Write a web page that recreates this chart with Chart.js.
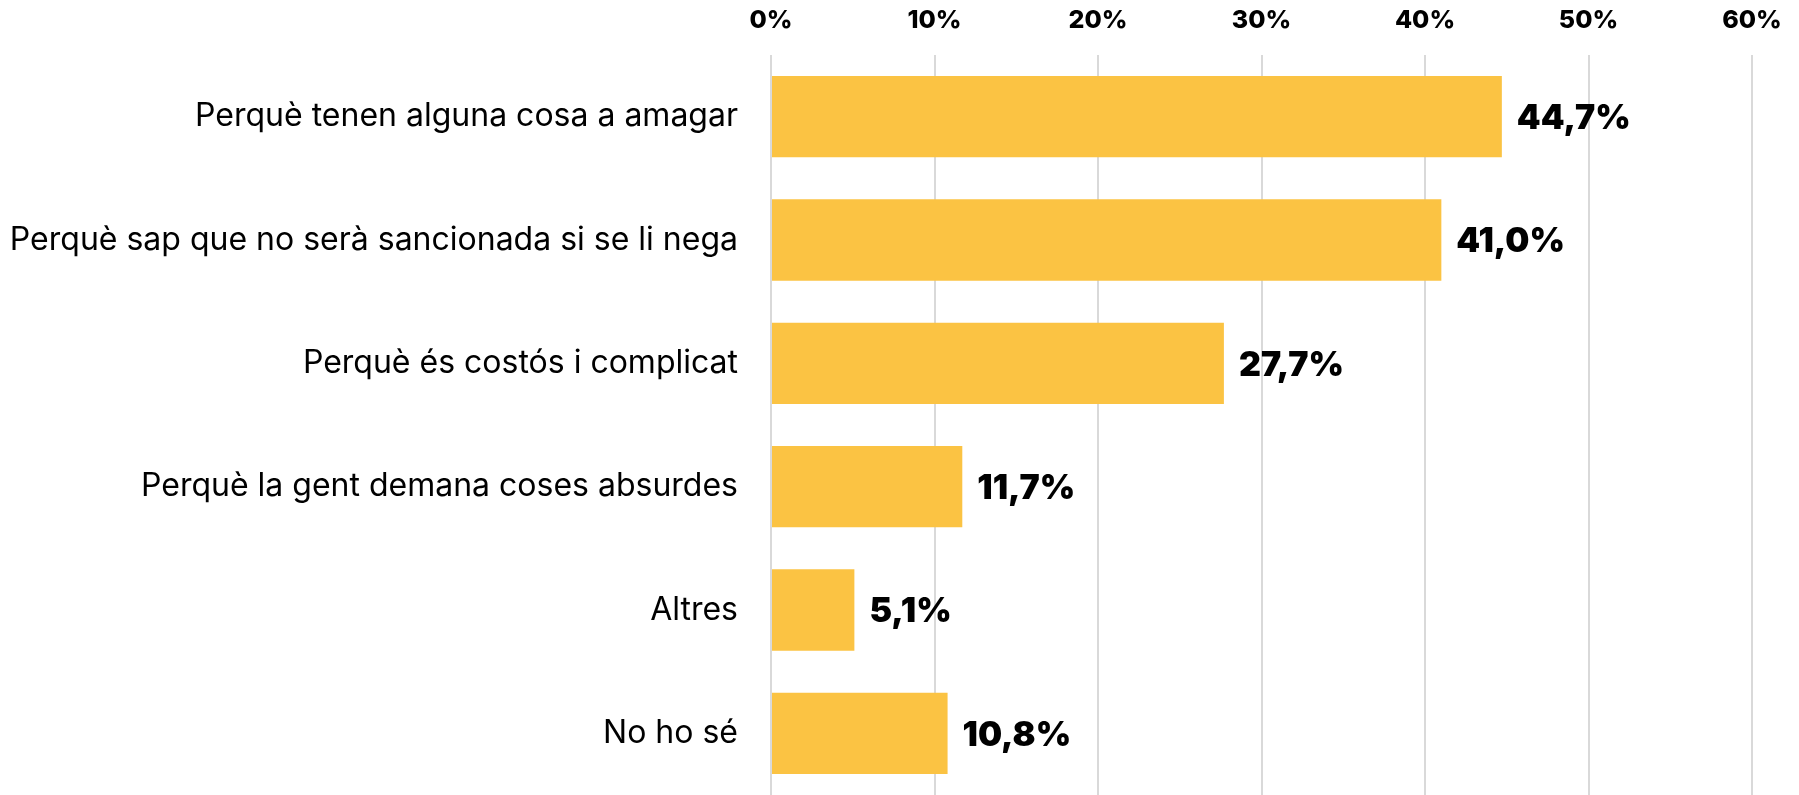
<!DOCTYPE html>
<html>
<head>
<meta charset="utf-8">
<script src="https://cdn.jsdelivr.net/npm/chart.js@4"></script>
<style>
  html, body { margin: 0; padding: 0; background: #fff; }
  canvas { display: block; }
</style>
</head>
<body>
<canvas id="mainChart" width="1799" height="795"></canvas>
<script>
// Data
const categories = [
  'Perquè tenen alguna cosa a amagar',
  'Perquè sap que no serà sancionada si se li nega',
  'Perquè és costós i complicat',
  'Perquè la gent demana coses absurdes',
  'Altres',
  'No ho sé'
];
const values = [44.7, 41.0, 27.7, 11.7, 5.1, 10.8];
const tickValues = [0, 10, 20, 30, 40, 50, 60];

const barColor = '#fbc343';
const gridColor = '#d9d9d9';

// Formatting
const formatPercent = (val) => val.toFixed(1).replace('.', ',') + '%';

// Value labels at the end of each bar
const valueLabels = {
  id: 'valueLabels',
  afterDatasetsDraw(chart) {
    const { ctx } = chart;
    const meta = chart.getDatasetMeta(0);
    ctx.save();
    ctx.font = '900 34px Inter';
    ctx.fillStyle = '#000';
    ctx.textAlign = 'left';
    ctx.textBaseline = 'middle';
    meta.data.forEach((bar, i) => {
      ctx.fillText(formatPercent(values[i]), bar.x + 15, bar.y + 2);
    });
    ctx.restore();
  }
};

const ctx = document.getElementById('mainChart').getContext('2d');
new Chart(ctx, {
  type: 'bar',
  data: {
    labels: categories,
    datasets: [{
      data: values,
      backgroundColor: barColor,
      borderWidth: 0,
      barPercentage: 0.66,
      categoryPercentage: 1
    }]
  },
  options: {
    indexAxis: 'y',
    responsive: false,
    animation: false,
    layout: { padding: { top: 0, right: 47, bottom: 0, left: 0 } },
    plugins: {
      legend: { display: false },
      tooltip: { enabled: false }
    },
    scales: {
      x: {
        position: 'top',
        min: 0,
        max: 60,
        afterBuildTicks: (axis) => { axis.ticks = tickValues.map(v => ({ value: v })); },
        afterFit: (axis) => {
          axis.height = 55;
          axis.paddingLeft = 0;
          axis.paddingRight = 0;
        },
        grid: { color: gridColor, lineWidth: 2, drawTicks: false },
        border: { display: false },
        ticks: {
          padding: 20,
          color: '#000',
          font: { family: 'Inter', size: 25, weight: '800' },
          callback: (v) => v + '%'
        }
      },
      y: {
        afterFit: (axis) => {
          axis.width = 771;
          axis.paddingTop = 0;
          axis.paddingBottom = 0;
        },
        grid: { display: false, drawTicks: false },
        border: { display: false },
        ticks: {
          padding: 33,
          color: '#000',
          font: { family: 'Inter', size: 32, weight: '400' }
        }
      }
    }
  },
  plugins: [valueLabels]
});
</script>
</body>
</html>
